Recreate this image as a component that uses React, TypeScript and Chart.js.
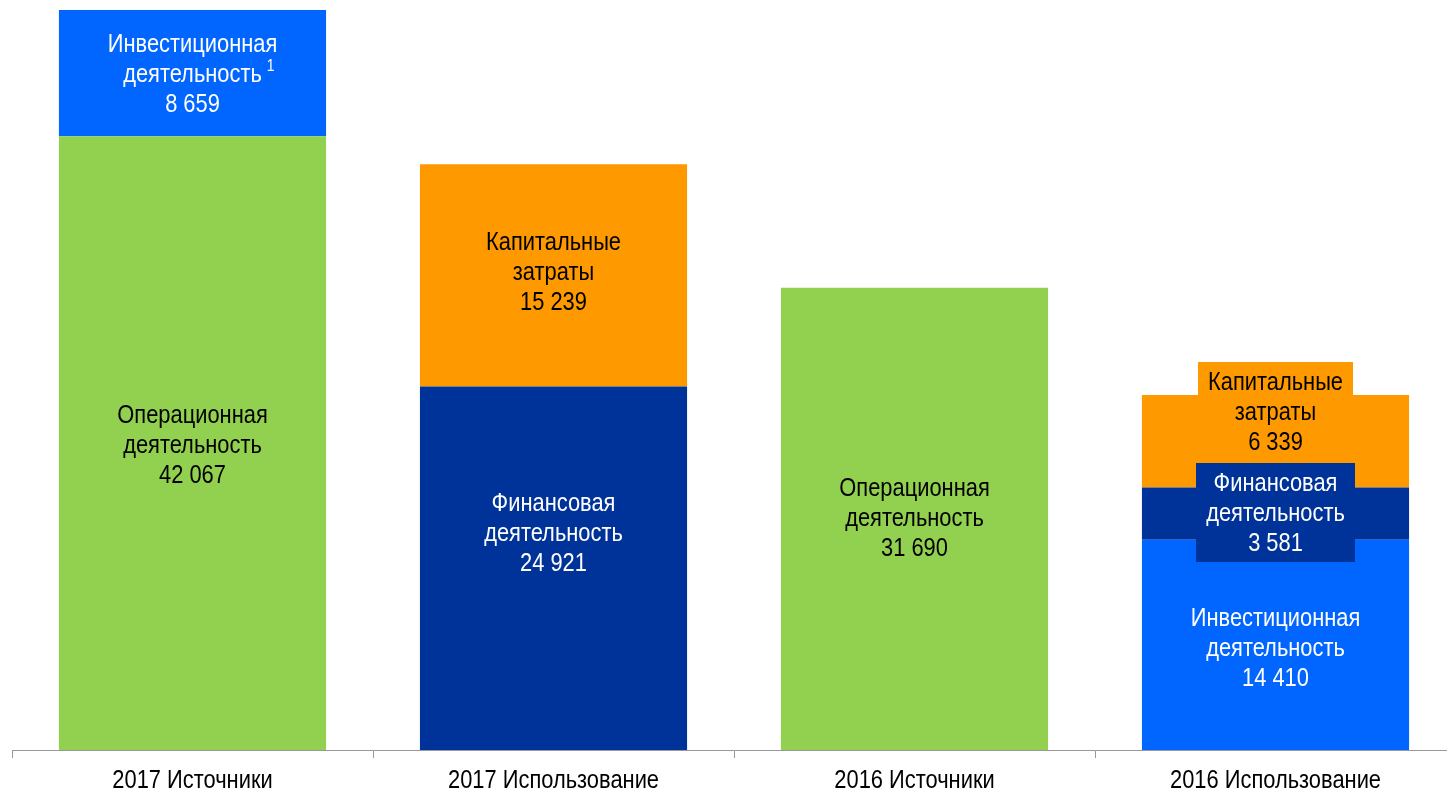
import React, { useEffect, useRef } from 'react';
import { Chart, registerables } from 'chart.js';

Chart.register(...registerables);

const categories = ['2017 Источники', '2017 Использование', '2016 Источники', '2016 Использование'];
const operational = [42067, null, 31690, null];
const investment = [8659, null, null, 14410];
const financial = [null, 24921, null, 3581];
const capex = [null, 15239, null, 6339];

const seriesNames = ['Операционная\nдеятельность', 'Инвестиционная\nдеятельность', 'Финансовая\nдеятельность', 'Капитальные\nзатраты'];
const seriesColors = ['#92D050', '#0066FF', '#003399', '#FF9900'];
const textColors = ['#000000', '#FFFFFF', '#FFFFFF', '#000000'];

const FONT = '"Liberation Sans", Arial, sans-serif';
const FONT_SIZE = 25;
const LINE_H = 30;
const XSCALE = 0.875; // narrow look

// label tweaks: [datasetIndex-index] -> offset / boxed / footnote
const labelOffsets: Record<string, number> = { '0-0': 3, '2-1': -34, '3-1': -2, '3-3': -28, '1-0': 2, '1-3': 4 };
const boxedLabels: Record<string, boolean> = { '2-3': true, '3-3': true };
const footnotes: Record<string, string> = { '1-0': '1' };

function fmt(v: number) {
  return String(v).replace(/\B(?=(\d{3})+(?!\d))/g, ' ');
}

function narrowText(ctx: CanvasRenderingContext2D, text: string, x: number, y: number) {
  ctx.save();
  ctx.translate(x, y);
  ctx.scale(XSCALE, 1);
  ctx.fillText(text, 0, 0);
  ctx.restore();
}

const labelPlugin = {
  id: 'segLabels',
  afterDatasetsDraw(chart: any) {
    const ctx = chart.ctx;
    ctx.save();
    ctx.font = `${FONT_SIZE}px ${FONT}`;
    ctx.textAlign = 'center';
    ctx.textBaseline = 'middle';
    chart.data.datasets.forEach((ds: any, di: number) => {
      const meta = chart.getDatasetMeta(di);
      meta.data.forEach((el: any, i: number) => {
        const v = ds.data[i];
        if (v == null) return;
        const key = `${di}-${i}`;
        const lines = [...seriesNames[di].split('\n'), fmt(v)];
        const cx = el.x;
        const cy = (el.y + el.base) / 2 + (labelOffsets[key] || 0);
        const top = cy - (lines.length * LINE_H) / 2;
        if (boxedLabels[key]) {
          let w = 0;
          lines.forEach((l) => (w = Math.max(w, ctx.measureText(l).width * XSCALE)));
          const padX = 10;
          ctx.fillStyle = seriesColors[di];
          ctx.fillRect(Math.round(cx - w / 2 - padX), Math.round(top - 6), Math.round(w + padX * 2), lines.length * LINE_H + 9);
        }
        ctx.fillStyle = textColors[di];
        lines.forEach((l, li) => {
          const ly = top + LINE_H * (li + 0.5);
          ctx.font = `${FONT_SIZE}px ${FONT}`;
          narrowText(ctx, l, cx, ly);
          if (li === 1 && footnotes[key]) {
            const w = ctx.measureText(l).width * XSCALE;
            ctx.font = `${Math.round(FONT_SIZE * 0.62)}px ${FONT}`;
            ctx.textAlign = 'left';
            narrowText(ctx, footnotes[key], cx + w / 2 + 5, ly - 9);
            ctx.textAlign = 'center';
          }
        });
      });
    });
    ctx.restore();
  },
  afterDraw(chart: any) {
    const ctx = chart.ctx;
    const xs = chart.scales.x;
    ctx.save();
    ctx.font = `${FONT_SIZE}px ${FONT}`;
    ctx.textAlign = 'center';
    ctx.textBaseline = 'middle';
    ctx.fillStyle = '#000000';
    categories.forEach((c, i) => {
      narrowText(ctx, c, xs.getPixelForTick(i), 781);
    });
    ctx.restore();
  },
};

export default function App() {
  const ref = useRef<HTMLCanvasElement>(null);
  useEffect(() => {
    if (!ref.current) return;
    const data = [operational, investment, financial, capex];
    const chart = new Chart(ref.current, {
      type: 'bar',
      data: {
        labels: categories,
        datasets: data.map((d, i) => ({
          label: seriesNames[i],
          data: d,
          backgroundColor: seriesColors[i],
          borderWidth: 0,
          categoryPercentage: 1,
          barPercentage: 0.74,
          stack: 's',
        })),
      },
      options: {
        responsive: false,
        animation: false,
        layout: { padding: { left: 12, right: 4, top: 10, bottom: 0 } },
        plugins: { legend: { display: false }, tooltip: { enabled: false } },
        scales: {
          x: {
            stacked: true,
            offset: true,
            grid: {
              offset: true,
              drawOnChartArea: false,
              drawTicks: true,
              tickLength: 8,
              color: '#999999',
              lineWidth: 1,
            },
            border: { display: true, color: '#999999', width: 1 },
            ticks: {
              color: 'rgba(0,0,0,0)',
              font: { family: FONT, size: FONT_SIZE },
              padding: 3,
            },
          },
          y: {
            stacked: true,
            display: false,
            min: 0,
            max: 50726,
          },
        },
      },
      plugins: [labelPlugin],
    });
    return () => chart.destroy();
  }, []);
  return (
    <div style={{ position: 'fixed', left: 0, top: 0, width: 1447, height: 794, overflow: 'hidden', background: '#fff' }}>
      <canvas ref={ref} width={1460} height={794} style={{ display: 'block' }} />
    </div>
  );
}
